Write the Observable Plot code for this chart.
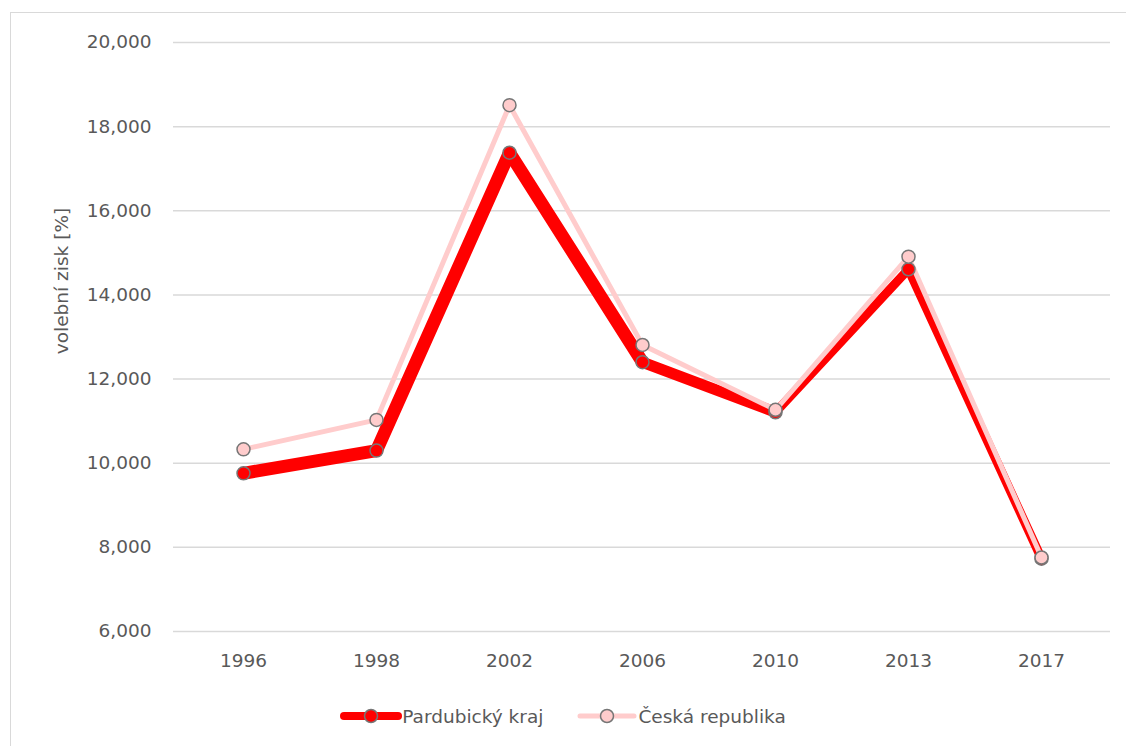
<!DOCTYPE html>
<html>
<head>
<meta charset="utf-8">
<script src="https://cdn.jsdelivr.net/npm/d3@7"></script>
<script src="https://cdn.jsdelivr.net/npm/@observablehq/plot@0.6"></script>
<style>
  html, body { margin: 0; padding: 0; background: #fff; }
  body { width: 1126px; height: 746px; overflow: hidden; position: relative; font-family: "DejaVu Sans", sans-serif; }
  #frame { position: absolute; left: 10px; top: 12px; width: 1120px; height: 740px;
           border-left: 1.5px solid #d9d9d9; border-top: 1.5px solid #d9d9d9; }
  #chart { position: absolute; left: 11px; top: 13px; }
  #legend { position: absolute; left: 0; top: 700px; width: 1126px; height: 32px;
            display: flex; justify-content: center; align-items: center; gap: 0; color: #595959; font-size: 18.5px; }
  .item { display: flex; align-items: center; }
  .item svg { display: block; }
</style>
</head>
<body>
<div id="frame"></div>
<div id="chart"></div>
<div id="legend"></div>
<script>
// ---- data ----
const years = ["1996", "1998", "2002", "2006", "2010", "2013", "2017"];
const pardubickyKraj = [9.76, 10.30, 17.38, 12.40, 11.21, 14.61, 7.73];
const ceskaRepublika = [10.33, 11.03, 18.51, 12.81, 11.27, 14.91, 7.76];
const yTicks = [6, 8, 10, 12, 14, 16, 18, 20];
const seriesNames = ["Pardubický kraj", "Česká republika"];
const yLabel = "volební zisk [%]";

// ---- styles ----
const RED = "#ff0000";
const PINK = "#ffcccc";
const MARKER_STROKE = "#767676";
const redSegmentWidths = [13, 13, 13, 11, 9, 9];

const fmt = d => d.toFixed(3).replace(".", ",");

const pRows = years.map((y, i) => ({year: y, value: pardubickyKraj[i]}));
const cRows = years.map((y, i) => ({year: y, value: ceskaRepublika[i]}));
const pSegs = years.slice(1).map((y, i) => ({
  x1: years[i], y1: pardubickyKraj[i], x2: y, y2: pardubickyKraj[i + 1], w: redSegmentWidths[i]
}));

const chart = Plot.plot({
  width: 1115,
  height: 680,
  marginLeft: 162,
  marginRight: 16,
  marginTop: 29,
  marginBottom: 62,
  style: {fontFamily: "DejaVu Sans", fontSize: "18.5px", color: "#595959", background: "transparent"},
  x: {type: "point", domain: years, padding: 0.5, label: null},
  y: {domain: [6, 20], ticks: yTicks, label: null},
  marks: [
    Plot.ruleY(yTicks, {stroke: "#d9d9d9", strokeWidth: 1.5}),
    Plot.axisY({ticks: yTicks, tickSize: 0, tickPadding: 22, tickFormat: fmt, label: null, fill: "#595959", fontSize: 18.5}),
    Plot.axisX({tickSize: 0, tickPadding: 22, label: null, fill: "#595959", fontSize: 18.5}),
    Plot.link(pSegs, {x1: "x1", y1: "y1", x2: "x2", y2: "y2", stroke: RED, strokeWidth: "w",
      strokeLinecap: "round", strokeLinejoin: "round"}),
    Plot.line(cRows, {x: "year", y: "value", stroke: PINK, strokeWidth: 5,
      strokeLinecap: "round", strokeLinejoin: "round"}),
    Plot.dot(pRows, {x: "year", y: "value", r: 6.5, fill: RED, stroke: MARKER_STROKE, strokeWidth: 1.5}),
    Plot.dot(cRows, {x: "year", y: "value", r: 6.5, fill: PINK, stroke: MARKER_STROKE, strokeWidth: 1.5}),
    Plot.text([yLabel], {frameAnchor: "left", rotate: -90, dx: -111, dy: -56, textAnchor: "middle",
      fill: "#595959", fontSize: 18.5, lineAnchor: "middle"})
  ]
});
document.getElementById("chart").appendChild(chart);

// ---- legend ----
const legend = document.getElementById("legend");
const legendDefs = [
  {name: seriesNames[0], stroke: RED, width: 8, fill: RED, gapAfter: 33},
  {name: seriesNames[1], stroke: PINK, width: 5, fill: PINK, gapAfter: 0}
];
legendDefs.forEach(d => {
  const item = document.createElement("div");
  item.className = "item";
  item.style.marginRight = d.gapAfter + "px";
  const ns = "http://www.w3.org/2000/svg";
  const svg = document.createElementNS(ns, "svg");
  svg.setAttribute("width", 62);
  svg.setAttribute("height", 20);
  const line = document.createElementNS(ns, "line");
  line.setAttribute("x1", 4); line.setAttribute("x2", 58);
  line.setAttribute("y1", 10); line.setAttribute("y2", 10);
  line.setAttribute("stroke", d.stroke);
  line.setAttribute("stroke-width", d.width);
  line.setAttribute("stroke-linecap", "round");
  svg.appendChild(line);
  const c = document.createElementNS(ns, "circle");
  c.setAttribute("cx", 31); c.setAttribute("cy", 10); c.setAttribute("r", 6.5);
  c.setAttribute("fill", d.fill); c.setAttribute("stroke", MARKER_STROKE); c.setAttribute("stroke-width", 1.5);
  svg.appendChild(c);
  item.appendChild(svg);
  const t = document.createElement("span");
  t.textContent = d.name;
  item.appendChild(t);
  legend.appendChild(item);
});
</script>
</body>
</html>
